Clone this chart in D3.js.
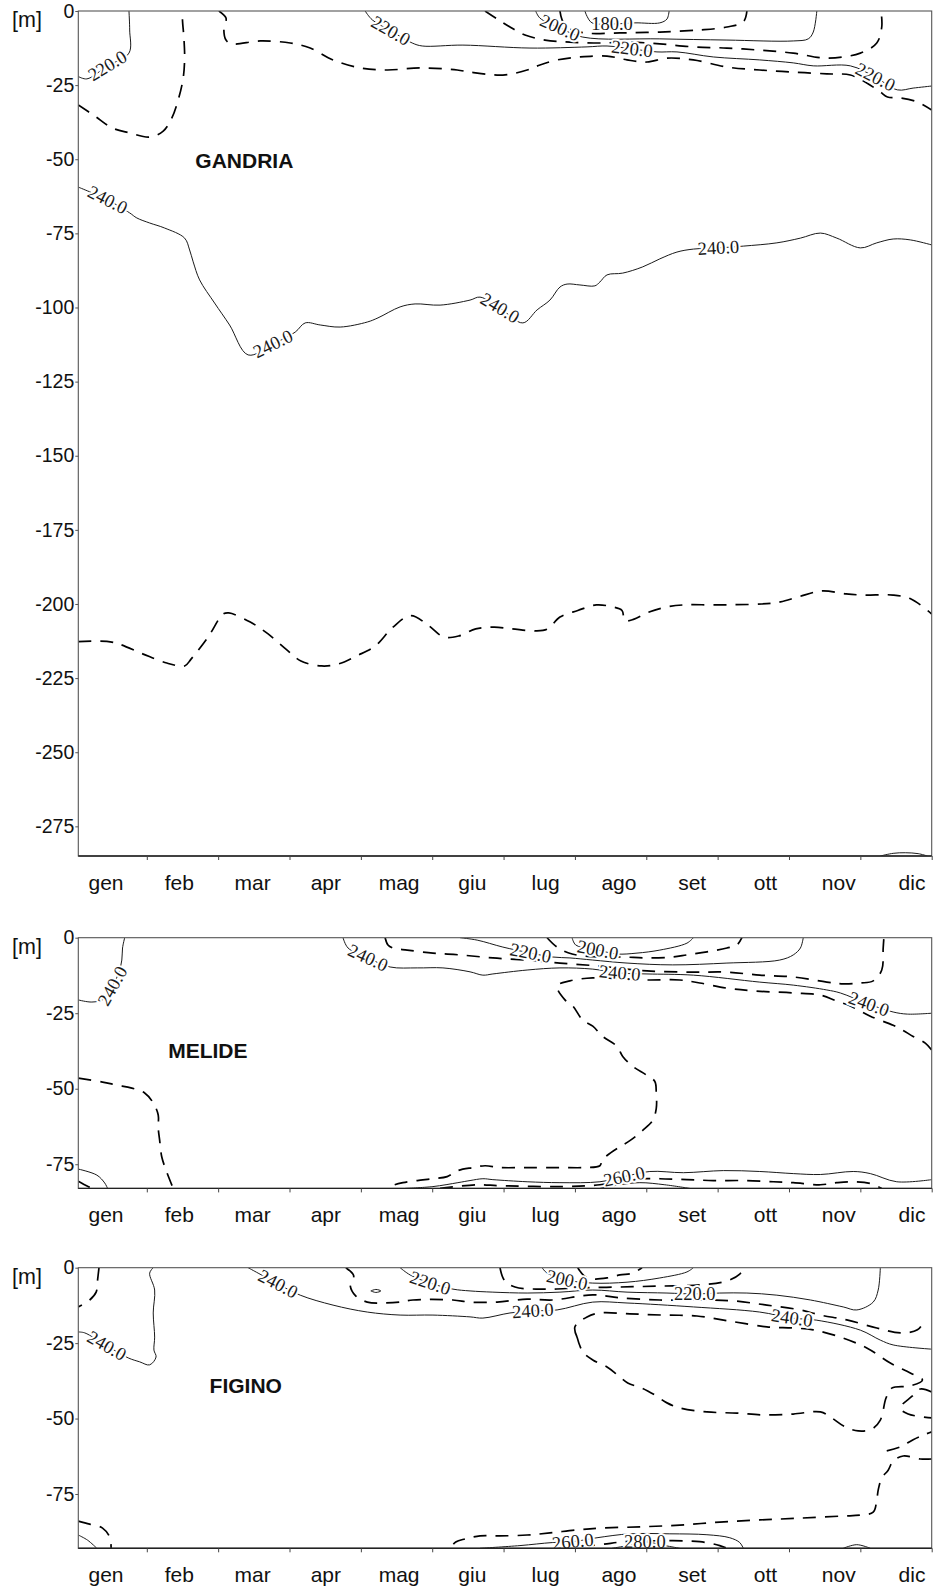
<!DOCTYPE html>
<html>
<head>
<meta charset="utf-8">
<script src="https://cdn.jsdelivr.net/npm/d3@7"></script>
<style>
  body { margin: 0; background: #fff; }
</style>
</head>
<body>
<svg id="chart" width="933" height="1591"></svg>
<script>
// ---- axis categories and ticks ----
const months = ["gen", "feb", "mar", "apr", "mag", "giu", "lug", "ago", "set", "ott", "nov", "dic"];
const gandriaDepthTicks = [0, 25, 50, 75, 100, 125, 150, 175, 200, 225, 250, 275];
const melideDepthTicks = [0, 25, 50, 75];
const figinoDepthTicks = [0, 25, 50, 75];

// ---- isolines: [month (0 = 1 Jan, 12 = 31 Dec), depth in m] ----
// GANDRIA
const gandria220West = [[0.75,0],[0.76,6.4],[0.75,14.2],[0.45,18.5],[0.16,22.9],[0.04,22.1]];
const gandria230West = [[0.04,31.7],[0.27,35.4],[0.52,39.5],[0.76,41.1],[1.04,42.5],[1.23,40.5],[1.35,36.1],[1.44,30.0],[1.51,22.6],[1.53,15.9],[1.52,9.1],[1.5,3.0],[1.5,0]];
const gandria230 = [[2.01,0],[2.11,2.4],[2.08,6.4],[2.11,9.8],[2.19,11.1],[2.59,10.1],[3.01,10.8],[3.29,12.5],[3.61,16.5],[3.99,19.2],[4.37,19.9],[4.83,19.2],[5.35,19.9],[5.53,20.6],[5.99,21.6],[6.33,19.9],[6.51,18.2],[6.75,16.5],[7.07,15.5],[7.45,15.2],[7.73,16.5],[8.01,17.2],[8.29,15.9],[8.66,16.5],[9.13,18.9],[9.59,19.9],[10.06,20.6],[10.53,21.2],[10.86,21.6],[11.09,24.3],[11.28,27.3],[11.38,29.0],[11.56,29.3],[11.80,30.7],[12,33.4]];
const gandria220 = [[4.06,0],[4.16,3.0],[4.42,6.7],[4.72,10.8],[4.86,11.8],[5.43,11.5],[6.37,12.5],[7.17,12.1],[7.45,11.8],[7.80,12.8],[8.15,13.8],[8.43,13.8],[8.94,15.5],[9.59,16.5],[10.06,17.5],[10.34,18.5],[10.86,18.5],[11.21,22.3],[11.52,26.6],[11.74,26.0],[12,25.3]];
const gandria210 = [[5.74,0],[5.91,2.7],[6.09,5.4],[6.30,8.1],[6.58,9.8],[6.93,10.5],[7.35,10.8],[7.77,10.5],[8.19,11.1],[8.66,12.1],[9.13,12.5],[9.59,13.2],[10.06,14.2],[10.53,15.9],[11.00,14.2],[11.23,10.8],[11.30,5.4],[11.29,0]];
const gandria200 = [[6.45,0],[6.51,2.4],[6.79,5.7],[7.11,8.8],[8.19,9.4],[9.13,9.8],[10.06,10.1],[10.27,9.4],[10.34,7.1],[10.39,0]];
const gandria190 = [[6.79,0],[6.82,3.0],[6.90,5.7],[7.14,7.4],[7.63,7.4],[8.19,7.1],[8.75,6.4],[9.13,5.4],[9.36,3.7],[9.41,0]];
const gandria180 = [[7.14,0],[7.17,1.8],[7.24,4.0],[7.52,4.4],[7.84,4.0],[8.19,4.0],[8.29,2.7],[8.32,0]];
const gandria240 = [[0.04,59.4],[0.45,63.7],[0.76,68.1],[0.86,69.8],[1.04,71.5],[1.25,73.2],[1.53,76.6],[1.60,80.6],[1.65,84.6],[1.74,90.7],[1.95,98.5],[2.16,105.9],[2.42,116.0],[2.77,112.3],[3.08,108.3],[3.22,105.2],[3.43,105.9],[3.71,106.6],[4.09,104.9],[4.24,103.5],[4.55,99.8],[4.76,98.8],[5.11,99.2],[5.53,97.5],[5.67,96.5],[5.95,100.2],[6.27,105.2],[6.47,100.8],[6.65,97.5],[6.79,93.1],[6.89,92.1],[7.07,92.4],[7.28,92.7],[7.35,91.4],[7.45,89.0],[7.67,88.4],[7.95,86.3],[8.19,83.6],[8.43,81.3],[8.66,80.3],[9.01,79.9],[9.36,79.3],[9.83,78.2],[10.16,76.6],[10.44,74.9],[10.67,76.6],[11.00,79.9],[11.23,78.2],[11.46,76.9],[11.70,77.2],[12,78.9]];
const gandria250 = [[0.04,212.7],[0.44,212.6],[0.61,213.5],[0.95,216.9],[1.28,219.9],[1.53,220.9],[1.62,218.6],[1.86,211.1],[2.07,203.4],[2.15,203.0],[2.45,206.1],[2.70,210.1],[2.95,215.2],[3.16,219.2],[3.45,220.9],[3.69,220.2],[3.94,217.5],[4.20,214.2],[4.45,207.8],[4.70,203.9],[4.95,207.3],[5.16,211.1],[5.37,210.8],[5.61,208.4],[5.87,207.8],[6.12,208.4],[6.45,209.1],[6.62,208.4],[6.79,204.4],[7.04,202.2],[7.30,200.3],[7.53,201.0],[7.66,202.2],[7.70,205.6],[7.83,205.1],[8.04,202.7],[8.29,201.0],[8.54,200.3],[8.96,200.3],[9.62,200.0],[9.88,199.3],[10.13,197.6],[10.46,195.6],[10.80,196.6],[11.05,197.0],[11.46,197.0],[11.71,198.3],[12,203.4]];
const gandria260 = [[11.28,285],[11.46,284.1],[11.63,283.9],[11.81,284.2],[11.94,285]];

// MELIDE
const melide240West = [[0.69,0],[0.66,3.4],[0.65,7.4],[0.61,11.4],[0.52,16.0],[0.40,20.3],[0.23,21.3],[0.04,20.6]];
const melide250West = [[0.04,46.5],[0.38,47.8],[0.58,48.8],[0.79,49.8],[0.97,51.4],[1.09,54.7],[1.16,58.7],[1.16,63.0],[1.18,67.0],[1.21,72.6],[1.28,77.6],[1.37,83]];
const melide260West = [[0.04,76.6],[0.30,78.6],[0.41,81.2],[0.45,83]];
const melide270West = [[0.04,80.6],[0.17,82.3],[0.23,83]];
const melide240 = [[3.75,0],[3.82,3.4],[4.10,6.7],[4.41,9.7],[4.79,10.0],[5.15,10.0],[5.53,11.3],[5.71,12.4],[5.85,12.0],[6.33,10.7],[6.79,10.0],[7.25,10.4],[7.63,11.7],[8.01,12.0],[8.66,12.4],[9.59,14.7],[10.06,15.7],[10.53,17.3],[10.72,18.3],[11.12,22.0],[11.46,24.6],[11.66,25.3],[12,25.0]];
const melide230 = [[4.34,0],[4.38,2.4],[4.45,3.4],[4.65,4.1],[5.01,5.1],[5.39,5.7],[5.85,6.7],[6.33,7.4],[6.79,8.4],[7.35,9.4],[8.01,11.0],[8.66,11.4],[9.13,11.4],[9.59,12.4],[10.06,13.0],[10.53,14.7],[10.76,15.3],[11.00,15.0],[11.18,14.3],[11.30,10.7],[11.32,3.4],[11.33,0]];
const melide220 = [[5.39,0],[5.63,0.8],[5.99,3.1],[6.38,5.1],[6.69,6.4],[6.93,6.7],[7.25,7.4],[7.73,8.4],[8.37,9.0],[9.13,8.4],[9.87,7.4],[10.06,5.7],[10.16,3.4],[10.20,0]];
const melide210 = [[6.61,0],[6.75,3.1],[6.96,5.4],[7.35,6.4],[7.67,6.4],[8.01,6.7],[8.37,6.4],[8.57,5.7],[8.85,4.7],[9.13,3.4],[9.27,2.4],[9.34,0]];
const melide200 = [[6.96,0],[7.01,2.4],[7.21,3.7],[7.32,4.1],[7.59,5.4],[7.87,5.1],[8.19,4.1],[8.57,1.8],[8.66,0]];
const melide250 = [[12,37.2],[11.91,34.9],[11.74,32.7],[11.60,30.7],[11.46,29.0],[11.14,26.0],[10.86,22.6],[10.67,21.0],[10.44,19.0],[10.06,18.3],[9.50,17.6],[9.13,16.7],[8.75,15.0],[8.47,14.0],[8.01,14.0],[7.73,13.7],[7.25,13.3],[6.93,14.3],[6.75,16.0],[6.86,20.6],[6.97,22.6],[7.11,27.3],[7.25,29.3],[7.39,32.7],[7.59,36.0],[7.67,39.3],[7.81,42.6],[8.01,45.6],[8.12,47.6],[8.14,51.6],[8.14,56.5],[8.09,60.5],[7.95,63.8],[7.77,67.2],[7.63,69.2],[7.45,72.1],[7.38,73.8],[7.35,75.5],[7.14,76.1],[6.79,76.1],[6.33,76.1],[5.95,76.1],[5.74,75.5],[5.57,76.1],[5.36,77.1],[5.21,79.1],[5.01,79.8],[4.79,80.4],[4.59,81.1],[4.44,82.1],[4.38,83]];
const melide260 = [[4.62,83],[5.01,82.4],[5.36,81.1],[5.53,80.4],[5.71,79.8],[5.85,80.1],[6.33,80.8],[6.79,81.1],[7.35,80.8],[7.69,79.1],[8.05,77.4],[8.52,77.8],[9.08,77.1],[9.59,77.4],[10.06,78.1],[10.44,78.4],[10.90,77.4],[11.14,78.1],[11.51,80.8],[12,80.1]];
const melide270 = [[5.11,83],[5.63,81.8],[5.95,82.1],[6.79,82.4],[7.35,81.8],[7.63,80.4],[7.91,79.8],[8.19,79.8],[8.57,80.1],[8.94,80.4],[9.36,80.4],[9.78,80.8],[10.06,81.1],[10.44,81.8],[10.67,81.1],[10.90,80.8],[11.14,81.4],[11.30,83]];
const melide280 = [[7.35,83],[7.63,81.8],[7.91,81.1],[8.26,81.8],[8.61,83]];

// FIGINO
const figino240West = [[1.09,0],[1.04,1.8],[1.11,7.4],[1.09,15.0],[1.11,23.0],[1.10,27.3],[1.13,29.6],[1.04,32.2],[0.90,31.2],[0.74,29.9],[0.44,25.9],[0.13,21.6],[0.04,21.3]];
const figino230West = [[0.33,0],[0.31,4.1],[0.29,8.1],[0.20,10.7],[0.04,13.0]];
const figino240 = [[2.42,0],[2.56,1.8],[2.84,5.4],[3.15,9.1],[3.61,12.4],[4.09,14.7],[4.55,15.7],[5.01,15.7],[5.53,16.3],[5.71,16.7],[6.09,15.0],[6.41,14.3],[6.75,14.0],[7.25,11.4],[7.73,11.7],[8.66,13.0],[9.59,14.7],[10.04,16.7],[10.39,17.4],[11.00,20.7],[11.28,24.0],[11.46,25.6],[12,27.0]];
const figino230 = [[3.79,0],[3.90,2.7],[3.85,5.7],[3.93,9.4],[4.09,11.4],[4.31,11.7],[4.55,11.4],[4.73,10.7],[5.29,10.7],[5.53,11.4],[5.91,11.4],[6.33,10.4],[6.68,10.7],[7.25,9.0],[7.63,10.0],[8.19,10.7],[8.75,10.7],[9.22,11.0],[9.69,12.4],[10.16,14.0],[10.44,15.7],[10.81,17.3],[11.23,20.0],[11.56,21.6],[11.80,20.6],[11.89,17.9]];
const figino220 = [[4.55,0],[4.69,2.4],[4.97,5.1],[5.29,7.1],[5.53,7.7],[5.85,8.1],[6.33,8.4],[6.79,8.1],[7.25,7.4],[7.73,8.1],[8.29,8.4],[8.68,8.7],[9.03,8.4],[9.41,8.4],[9.83,9.1],[10.30,10.7],[10.76,13.0],[10.95,14.0],[11.18,11.4],[11.25,7.4],[11.28,0]];
const figino210 = [[5.95,0],[6.01,4.1],[6.16,6.4],[6.58,7.1],[7.07,6.7],[7.63,6.4],[8.19,6.1],[8.75,5.7],[9.13,4.4],[9.31,2.1],[9.37,0]];
const figino200 = [[6.54,0],[6.61,1.8],[6.89,4.1],[7.25,5.1],[7.73,4.8],[8.19,3.4],[8.57,1.4],[8.66,0]];
const figino190 = [[7.04,0],[7.13,2.7],[7.25,3.7],[7.45,3.4],[7.63,2.4],[7.81,1.8],[7.94,0]];
const figinoEddy = [[4.14,7.7],[4.21,7.2],[4.28,7.7],[4.21,8.2],[4.14,7.7]];
const figino250 = [[7.03,23.0],[7.00,19.6],[7.17,16.3],[7.35,15.0],[7.77,15.3],[8.23,15.7],[8.71,16.0],[9.17,17.7],[9.69,19.6],[10.06,20.0],[10.34,20.6],[10.72,23.0],[11.09,26.6],[11.42,31.6],[11.70,34.9],[11.87,37.2],[11.70,39.2],[11.44,39.9],[11.36,43.2],[11.28,50.5],[11.16,53.5],[10.97,54.1],[10.79,52.8],[10.60,49.8],[10.44,47.8],[10.06,48.5],[9.64,48.8],[9.27,48.2],[8.85,47.8],[8.47,46.5],[8.29,44.8],[8.12,42.2],[7.94,39.9],[7.74,38.2],[7.60,35.6],[7.45,32.9],[7.25,30.6],[7.11,27.9],[7.03,23.0]];
const figino250East = [[12,41.2],[11.84,40.2],[11.73,42.5],[11.56,46.5],[11.67,48.5],[12,49.8]];
const figino250Spur = [[11.37,60.7],[11.56,59.4],[11.74,57.0],[11.89,55.4],[12,54.4]];
const figino250South = [[12,63.4],[11.84,63.4],[11.60,62.4],[11.46,64.1],[11.39,67.1],[11.30,69.7],[11.25,73.7],[11.23,77.0],[11.18,81.0],[11.00,82.0],[10.76,82.3],[10.16,83.0],[9.59,83.6],[9.03,84.3],[8.47,85.3],[7.91,85.9],[7.35,86.3],[7.03,86.9],[6.65,87.9],[6.33,88.6],[5.95,88.9],[5.67,88.9],[5.46,89.9],[5.33,90.9],[5.25,93]];
const figino260 = [[5.67,93],[6.23,92.1],[6.68,91.1],[6.97,90.8],[7.31,89.5],[7.77,88.2],[8.33,88.2],[8.85,88.5],[9.17,89.5],[9.31,91.1],[9.36,93]];
const figino270 = [[6.79,93],[7.35,91.8],[7.70,90.8],[8.19,90.5],[8.75,90.8],[9.03,92.1],[9.13,93]];
const figino280 = [[7.52,93],[7.74,92.1],[7.98,90.9],[8.26,92.1],[8.47,93]];
const figino260West = [[0.04,88.6],[0.17,90.3],[0.30,93]];
const figino250West = [[0.04,84.0],[0.20,85.0],[0.38,86.3],[0.48,89.3],[0.50,93]];
const figino260East = [[10.76,93],[10.95,91.8],[11.14,93]];

// ---- contour tables (level, polyline, label anchors on the polyline) ----
const gandriaContours = [
  { level: 220, pts: gandria220West, labels: [[0.45,18.5]] },
  { level: 230, pts: gandria230West },
  { level: 230, pts: gandria230 },
  { level: 220, pts: gandria220, labels: [[4.42,6.7],[7.80,12.8],[11.21,22.3]] },
  { level: 210, pts: gandria210 },
  { level: 200, pts: gandria200, labels: [[6.79,5.7]] },
  { level: 190, pts: gandria190 },
  { level: 180, pts: gandria180, labels: [[7.52,4.4]] },
  { level: 240, pts: gandria240, labels: [[0.45,63.7],[2.77,112.3],[5.95,100.2],[9.01,79.9]] },
  { level: 250, pts: gandria250 },
  { level: 260, pts: gandria260 }
];
const melideContours = [
  { level: 240, pts: melide240West, labels: [[0.52,16.0]] },
  { level: 250, pts: melide250West },
  { level: 260, pts: melide260West },
  { level: 270, pts: melide270West },
  { level: 240, pts: melide240, labels: [[4.10,6.7],[7.63,11.7],[11.12,22.0]] },
  { level: 230, pts: melide230 },
  { level: 220, pts: melide220, labels: [[6.38,5.1]] },
  { level: 210, pts: melide210 },
  { level: 200, pts: melide200, labels: [[7.32,4.1]] },
  { level: 250, pts: melide250 },
  { level: 260, pts: melide260, labels: [[7.69,79.1]] },
  { level: 270, pts: melide270 },
  { level: 280, pts: melide280 }
];
const figinoContours = [
  { level: 240, pts: figino240West, labels: [[0.44,25.9]] },
  { level: 230, pts: figino230West },
  { level: 240, pts: figino240, labels: [[2.84,5.4],[6.41,14.3],[10.04,16.7]] },
  { level: 230, pts: figino230 },
  { level: 220, pts: figino220, labels: [[4.97,5.1],[8.68,8.7]] },
  { level: 210, pts: figino210 },
  { level: 200, pts: figino200, labels: [[6.89,4.1]] },
  { level: 190, pts: figino190 },
  { level: 220, pts: figinoEddy },
  { level: 250, pts: figino250 },
  { level: 250, pts: figino250East },
  { level: 250, pts: figino250Spur },
  { level: 250, pts: figino250South },
  { level: 260, pts: figino260, labels: [[6.97,90.8]] },
  { level: 270, pts: figino270 },
  { level: 280, pts: figino280, labels: [[7.98,90.9]] },
  { level: 260, pts: figino260West },
  { level: 250, pts: figino250West },
  { level: 260, pts: figino260East }
];

// ---- panel layout ----
const panels = [
  { title: "GANDRIA", top: 11,    bottom: 856,    maxDepth: 285, ticks: gandriaDepthTicks, contours: gandriaContours, titleAt: [1.68, 52.9] },
  { title: "MELIDE",  top: 937.7, bottom: 1188.4, maxDepth: 83,  ticks: melideDepthTicks,  contours: melideContours,  titleAt: [1.30, 39.7] },
  { title: "FIGINO",  top: 1267.7,bottom: 1548.3, maxDepth: 93,  ticks: figinoDepthTicks,  contours: figinoContours,  titleAt: [1.88, 41.6] }
];

const SANS = "'Liberation Sans', Arial, Helvetica, sans-serif";
const SERIF = "'Liberation Serif', 'Times New Roman', Times, serif";

const svg = d3.select("#chart");
const x = d3.scaleLinear().domain([0.04, 12]).range([78.3, 931.7]);
const monthLabelX = d3.scalePoint().domain(months).range([106, 912]);

function labelAngle(P, L) {
  let bi = 0, bd = Infinity;
  P.forEach((p, i) => {
    const d = (p[0] - L[0]) ** 2 + (p[1] - L[1]) ** 2;
    if (d < bd) { bd = d; bi = i; }
  });
  const a = P[Math.max(0, bi - 1)], b = P[Math.min(P.length - 1, bi + 1)];
  let ang = Math.atan2(b[1] - a[1], b[0] - a[0]) * 180 / Math.PI;
  if (ang > 90) ang -= 180;
  if (ang < -90) ang += 180;
  return ang;
}

panels.forEach((p, i) => {
  const y = d3.scaleLinear().domain([0, p.maxDepth]).range([p.top, p.bottom]);
  const g = svg.append("g");
  const [x0, x1] = x.range();

  const clipId = "plot-clip-" + i;
  svg.append("defs").append("clipPath").attr("id", clipId)
    .append("rect").attr("x", x0).attr("y", p.top).attr("width", x1 - x0).attr("height", p.bottom - p.top);

  const line = d3.line().x(d => x(d[0])).y(d => y(d[1])).curve(d3.curveCatmullRom.alpha(0.5));
  const plot = g.append("g").attr("clip-path", `url(#${clipId})`);

  // isolines: even levels solid, odd tens dashed
  plot.selectAll("path.iso").data(p.contours).join("path")
    .attr("class", "iso")
    .attr("d", c => line(c.pts))
    .attr("fill", "none")
    .attr("stroke", c => (c.level % 20 === 10) ? "#000" : "#1a1a1a")
    .attr("stroke-width", c => (c.level % 20 === 10) ? 1.7 : 1)
    .attr("stroke-dasharray", c => (c.level % 20 === 10) ? "13,9" : null)
    .attr("stroke-linejoin", "round");

  // inline isoline labels
  const labelData = [];
  p.contours.forEach(c => (c.labels || []).forEach(l => {
    const P = c.pts.map(d => [x(d[0]), y(d[1])]);
    const L = [x(l[0]), y(l[1])];
    labelData.push({ text: c.level.toFixed(1), pos: L, angle: labelAngle(P, L) });
  }));
  plot.selectAll("text.iso-label").data(labelData).join("text")
    .attr("class", "iso-label")
    .attr("transform", d => `translate(${d.pos[0]},${d.pos[1]}) rotate(${d.angle})`)
    .attr("text-anchor", "middle")
    .attr("dominant-baseline", "central")
    .attr("font-family", SERIF)
    .attr("font-size", 18.5)
    .attr("fill", "#1a1a1a")
    .attr("stroke", "#fff")
    .attr("stroke-width", 4)
    .attr("stroke-linejoin", "round")
    .attr("paint-order", "stroke")
    .text(d => d.text);

  // frame
  g.append("rect")
    .attr("x", x0).attr("y", p.top).attr("width", x1 - x0).attr("height", p.bottom - p.top)
    .attr("fill", "none").attr("stroke", "#555").attr("stroke-width", 1.1);
  g.append("line")
    .attr("x1", x0).attr("x2", x1).attr("y1", p.bottom).attr("y2", p.bottom)
    .attr("stroke", "#222").attr("stroke-width", 1.4);

  // depth axis
  const yAxis = d3.axisLeft(y).tickValues(p.ticks)
    .tickFormat(d => d ? `-${d}` : "0")
    .tickSize(3).tickPadding(1).tickSizeOuter(0);
  const ya = g.append("g").attr("transform", `translate(${x0},0)`).call(yAxis);
  ya.select(".domain").remove();
  ya.selectAll("line").attr("stroke", "#555");
  ya.selectAll("text").attr("font-family", SANS).attr("font-size", 19.5).attr("fill", "#111");

  // month boundary ticks
  const xAxis = d3.axisBottom(x).tickValues(d3.range(1, 13)).tickSize(4).tickFormat("").tickSizeOuter(0);
  const xa = g.append("g").attr("transform", `translate(0,${p.bottom})`).call(xAxis);
  xa.select(".domain").remove();
  xa.selectAll("line").attr("stroke", "#444");

  // month names
  g.selectAll("text.month").data(months).join("text")
    .attr("class", "month")
    .attr("x", d => monthLabelX(d))
    .attr("y", p.bottom + 34)
    .attr("text-anchor", "middle")
    .attr("font-family", SANS).attr("font-size", 21).attr("fill", "#111")
    .text(d => d);

  // unit
  g.append("text").attr("x", 12).attr("y", p.top + 16)
    .attr("font-family", SANS).attr("font-size", 21.5).attr("fill", "#111")
    .text("[m]");

  // station name
  g.append("text")
    .attr("x", x(p.titleAt[0])).attr("y", y(p.titleAt[1]))
    .attr("font-family", SANS).attr("font-size", 21).attr("font-weight", "bold").attr("fill", "#111")
    .text(p.title);
});
</script>
</body>
</html>
